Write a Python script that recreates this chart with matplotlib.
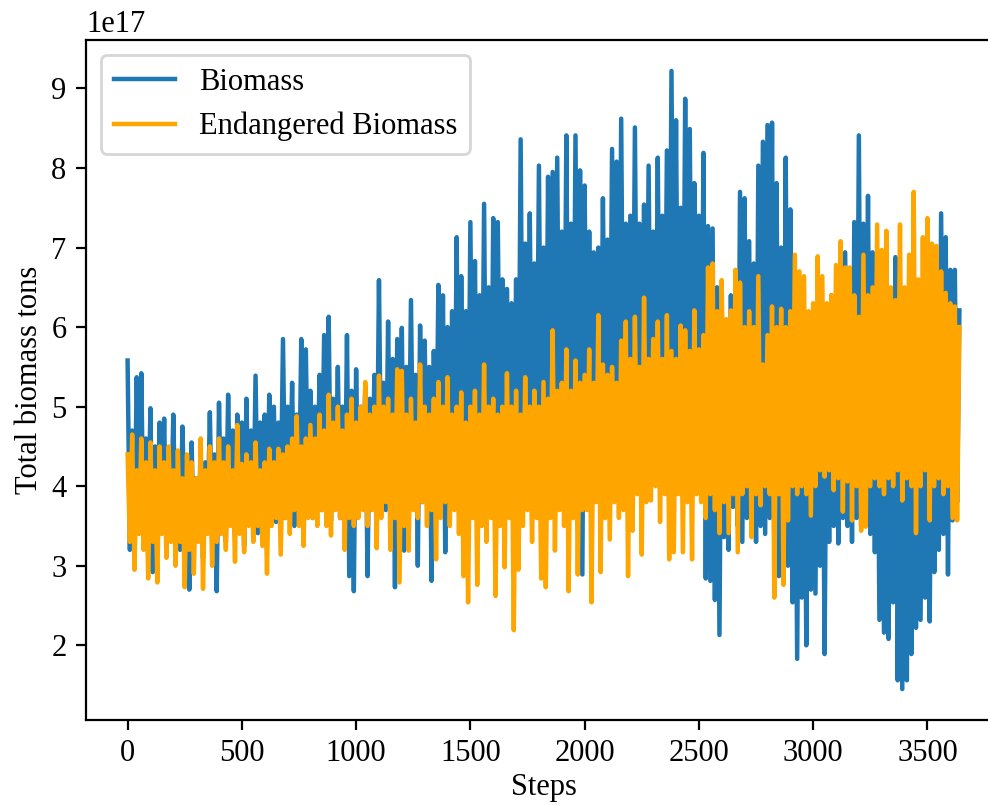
import numpy as np
import matplotlib
matplotlib.use("Agg")
import matplotlib.pyplot as plt

plt.rcParams['font.family'] = ['Liberation Serif', 'DejaVu Serif']
plt.rcParams['font.size'] = 11

# valores (unidades de 1e17 toneladas), un punto cada 10 pasos
step_size = 10

biomass = [
    5.58, 3.2, 4.7, 3.4, 5.37, 3.6, 5.42, 3.3, 4.6, 3.5, 4.98, 2.92, 4.5, 3.4, 4.8, 3.6, 4.85, 3.3, 4.4, 3.5,
    4.9, 3.4, 4.3, 3.2, 4.75, 3.5, 4.2, 2.7, 4.55, 3.3, 4.1, 3.4, 4.42, 3.1, 4.3, 3.5, 4.93, 3.3, 4.4, 2.68,
    5.05, 3.5, 4.6, 3.3, 5.15, 3.6, 4.7, 3.4, 4.9, 3.7, 4.8, 3.25, 5.1, 3.6, 4.7, 3.5, 5.39, 3.41, 4.8, 3.7,
    4.9, 3.6, 5.15, 3.8, 5.0, 3.55, 4.8, 3.7, 5.85, 3.6, 5.0, 3.8, 5.3, 3.5, 4.9, 3.7, 5.85, 3.47, 5.72, 3.8,
    5.2, 3.6, 5.0, 3.9, 5.4, 3.7, 5.9, 3.8, 6.13, 3.57, 5.1, 3.9, 5.5, 3.6, 5.0, 3.4, 5.9, 2.87, 5.2, 2.68,
    5.47, 3.7, 5.0, 3.9, 5.26, 2.87, 5.1, 3.8, 5.4, 3.6, 6.59, 3.9, 5.3, 3.7, 6.07, 3.5, 5.6, 2.73, 5.85, 3.8,
    5.99, 3.19, 5.5, 3.8, 6.34, 3.9, 5.4, 3.0, 6.02, 3.8, 5.83, 4.0, 5.5, 2.81, 5.7, 3.9, 6.53, 3.7, 6.4, 3.17,
    6.0, 3.8, 6.2, 4.0, 7.13, 3.7, 6.64, 4.1, 6.2, 3.9, 7.32, 4.0, 6.83, 3.8, 6.4, 4.1, 7.55, 3.9, 6.5, 4.0,
    7.37, 3.8, 7.32, 4.2, 6.6, 3.9, 6.48, 4.1, 6.3, 3.8, 6.6, 4.0, 8.36, 4.2, 7.05, 3.9, 7.43, 4.1, 6.8, 4.3,
    8.03, 4.2, 7.0, 4.4, 7.89, 4.1, 7.95, 4.3, 8.13, 4.2, 7.2, 4.5, 8.41, 4.2, 7.3, 4.4, 8.41, 4.3, 7.97, 2.89,
    7.78, 4.5, 7.2, 4.3, 6.94, 4.6, 7.0, 4.4, 7.62, 4.7, 7.1, 4.5, 8.24, 4.4, 8.08, 4.6, 8.62, 4.5, 7.3, 4.7,
    7.4, 4.6, 8.51, 4.8, 7.3, 4.5, 7.54, 4.7, 8.03, 4.6, 7.2, 4.8, 8.13, 4.5, 7.4, 4.7, 8.22, 4.6, 9.22, 4.8,
    8.6, 4.5, 7.5, 4.7, 8.87, 4.4, 8.49, 4.6, 7.81, 4.3, 7.4, 4.5, 8.19, 2.84, 7.27, 2.81, 7.24, 2.57, 6.5, 2.13,
    6.3, 3.36, 6.0, 3.2, 6.4, 3.74, 6.2, 3.5, 7.7, 3.3, 7.62, 3.6, 7.08, 3.4, 6.8, 3.3, 8.03, 3.5, 8.33, 3.4,
    8.54, 3.6, 8.57, 3.2, 7.81, 2.87, 7.0, 3.4, 8.13, 3.0, 7.48, 2.54, 6.2, 1.83, 6.0, 2.6, 5.8, 2.0, 6.1, 2.7,
    6.0, 2.65, 5.9, 3.0, 6.1, 1.89, 5.8, 3.3, 6.4, 3.5, 6.34, 3.28, 6.1, 3.6, 6.94, 3.5, 6.62, 3.3, 7.32, 3.6,
    8.41, 3.5, 7.3, 3.7, 7.65, 3.4, 6.94, 3.17, 6.0, 2.32, 5.8, 2.16, 6.0, 2.08, 5.7, 2.54, 6.88, 1.56, 5.9, 1.45,
    6.1, 1.56, 5.8, 1.89, 6.2, 2.22, 5.9, 2.32, 6.0, 2.6, 5.9, 2.3, 6.2, 2.92, 6.0, 3.2, 7.43, 3.4, 7.13, 2.89,
    6.72, 3.57, 6.72, 3.8, 6.21,
]

endangered = [
    4.4, 3.3, 4.65, 2.95, 4.2, 3.4, 4.6, 3.2, 4.3, 2.84, 4.55, 3.3, 4.2, 2.79, 4.5, 3.4, 4.3, 3.1, 4.5, 3.3,
    4.2, 3.0, 4.45, 3.3, 4.1, 2.73, 4.4, 3.2, 4.3, 2.9, 4.1, 3.3, 4.6, 2.71, 4.2, 3.4, 4.5, 3.0, 4.3, 3.3,
    4.6, 3.4, 4.3, 3.2, 4.5, 3.5, 4.2, 3.05, 4.77, 3.4, 4.28, 3.17, 4.4, 3.5, 4.3, 3.3, 4.55, 3.5, 4.2, 3.25,
    4.3, 2.9, 4.47, 3.5, 4.3, 3.6, 4.47, 3.14, 4.4, 3.6, 4.5, 3.4, 4.6, 3.7, 4.88, 3.5, 4.5, 3.25, 4.6, 3.6,
    4.77, 3.6, 4.6, 3.5, 4.9, 3.7, 4.7, 3.5, 5.15, 3.38, 4.8, 3.7, 5.0, 3.6, 4.7, 3.2, 4.9, 3.6, 5.1, 3.5,
    4.8, 3.6, 5.0, 3.7, 5.31, 3.5, 4.9, 3.7, 5.0, 3.22, 5.39, 3.6, 5.0, 3.8, 5.1, 3.2, 4.9, 3.6, 5.47, 2.79,
    5.45, 3.5, 4.9, 3.19, 5.1, 3.7, 4.8, 3.6, 5.53, 3.8, 5.0, 3.5, 4.9, 3.7, 5.1, 3.08, 5.31, 3.6, 5.0, 3.8,
    5.37, 3.5, 4.9, 3.7, 5.0, 3.4, 5.18, 2.87, 4.8, 2.54, 5.0, 3.6, 5.2, 2.76, 4.9, 3.5, 5.53, 3.3, 5.0, 3.6,
    5.1, 2.62, 4.9, 3.5, 5.0, 2.98, 5.42, 3.6, 5.0, 2.19, 5.2, 2.95, 4.9, 3.5, 5.37, 3.7, 5.0, 3.3, 5.2, 3.6,
    5.0, 2.84, 5.31, 2.73, 5.1, 3.6, 5.96, 3.19, 5.2, 3.7, 5.3, 3.5, 5.72, 2.68, 5.2, 3.6, 5.58, 2.89, 5.3, 3.7,
    5.4, 3.7, 5.72, 2.54, 5.3, 3.8, 6.15, 2.92, 5.53, 3.6, 5.4, 3.33, 5.5, 3.8, 5.3, 3.6, 5.83, 3.7, 6.07, 2.87,
    5.6, 3.44, 6.13, 3.9, 5.5, 3.14, 6.37, 3.8, 5.6, 3.82, 5.85, 4.0, 6.07, 3.55, 5.6, 3.9, 6.15, 3.08, 5.7, 3.17,
    5.6, 3.9, 6.02, 3.17, 5.96, 3.8, 5.7, 3.08, 6.21, 3.9, 5.72, 3.8, 5.9, 3.6, 6.75, 3.9, 6.8, 3.7, 6.2, 3.41,
    6.59, 3.8, 6.1, 3.41, 6.21, 3.9, 6.72, 3.17, 6.56, 3.9, 6.0, 4.0, 6.2, 3.36, 6.0, 3.9, 6.64, 3.76, 5.53, 4.0,
    5.9, 3.9, 6.26, 2.6, 6.0, 3.9, 6.23, 2.76, 6.0, 3.57, 6.2, 4.0, 6.91, 3.9, 6.7, 4.0, 6.64, 3.9, 6.2, 3.63,
    6.3, 4.0, 6.89, 4.2, 6.64, 4.12, 6.3, 4.2, 6.4, 3.95, 6.78, 4.1, 7.08, 3.68, 6.75, 4.06, 6.75, 3.57, 6.4, 4.0,
    6.13, 3.44, 6.91, 3.49, 6.4, 4.0, 6.5, 4.1, 7.29, 4.0, 6.97, 3.9, 7.21, 4.1, 6.5, 4.0, 6.34, 4.2, 7.29, 3.82,
    6.5, 4.1, 6.91, 4.0, 7.7, 3.41, 6.6, 4.0, 7.13, 4.2, 7.37, 3.57, 7.05, 4.0, 7.02, 4.1, 6.7, 3.9, 6.43, 4.0,
    6.3, 3.6, 6.26, 3.57, 6.0,
]

steps = np.arange(len(biomass)) * step_size

fig = plt.figure(figsize=(4.94, 4.03), dpi=200)
ax = fig.add_axes([86 / 988, 86 / 806, 915 / 988, 680 / 806])

ax.plot(steps, np.array(biomass) * 1e17, label='Biomass', color='#1f77b4', lw=1.6)
ax.plot(steps, np.array(endangered) * 1e17, label='Endangered Biomass', color='orange', lw=1.6)

ax.set_xlabel('Steps', labelpad=1.5)
ax.set_ylabel('Total biomass tons', labelpad=2.5)
ax.legend(loc='upper left')

fig.savefig('out.png', dpi=200)
